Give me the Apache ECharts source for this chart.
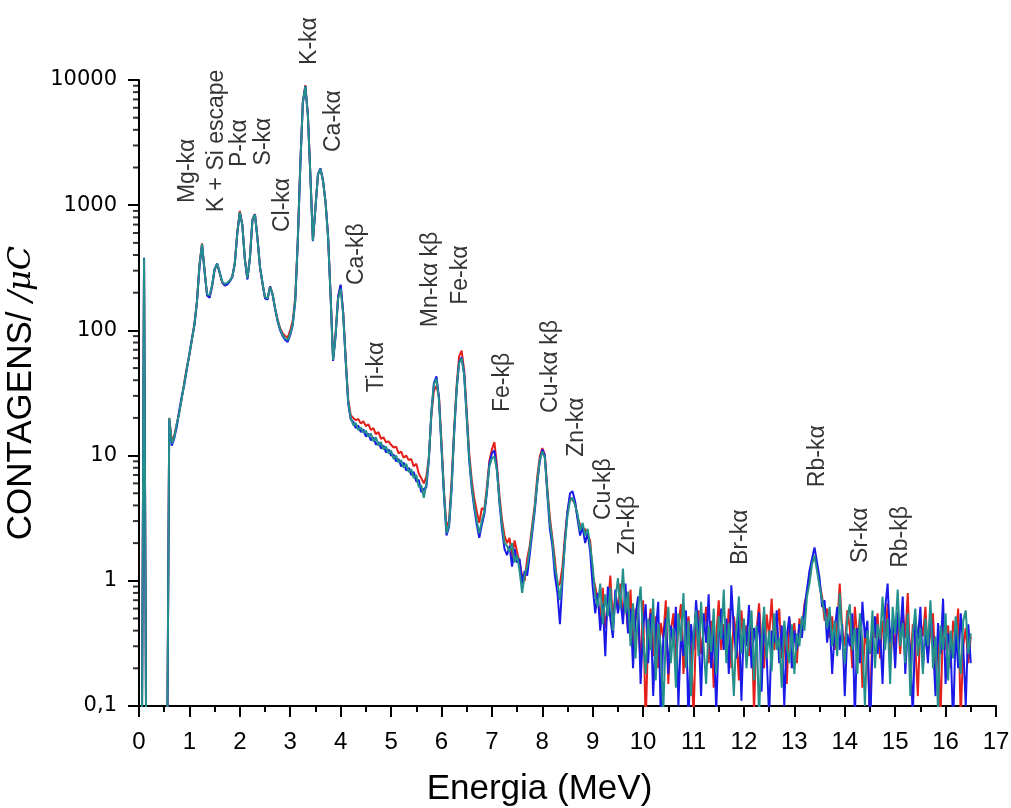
<!DOCTYPE html>
<html>
<head>
<meta charset="utf-8">
<script src="https://cdn.jsdelivr.net/npm/echarts@6/dist/echarts.min.js"></script>
<style>
  html, body { margin: 0; padding: 0; background: #fff; }
  #chart { width: 1011px; height: 808px; }
</style>
</head>
<body>
<div id="chart"></div>
<script>
// PIXE spectrum: counts per microcoulomb vs energy, three runs.
// Channels are 0.05 MeV wide; low part starts at 0.05 MeV, high part at 9.10 MeV.
const lowStart = 0.05;
const highStart = 9.10;
const channelWidth = 0.05;

const redLow = [
  0.01, 375, 0.01, 0.01, 0.01, 0.01, 0.01, 0.01, 0.01, 0.01,
  0.01, 20, 13, 14.5, 18, 22.5, 29, 39, 51, 64,
  85, 114, 172, 335, 495, 305, 192, 185, 228, 305,
  338, 288, 240, 230, 236, 248, 270, 345, 610, 900,
  700, 372, 258, 378, 770, 850, 548, 318, 236, 182,
  178, 225, 196, 150, 122, 104, 95, 90, 88, 100,
  120, 185, 530, 2150, 6700, 9100, 5300, 1720, 525, 960,
  1770, 1960, 1560, 1060, 565, 195, 60, 95, 188, 228,
  140, 60, 28, 21, 20, 19.2, 19.6, 18, 18.8, 17.2,
  17.8, 16, 16.6, 14.8, 15.4, 13.6, 14, 12.8, 13, 12.2,
  11.6, 11.8, 10.4, 10.8, 9.6, 10, 9.2, 9.4, 8.2, 8.6,
  7.2, 6.6, 6.0, 6.8, 9.8, 21, 33, 36, 30, 13,
  5.2, 2.7, 3.0, 6.2, 16, 36, 62, 69, 48, 23,
  10.5, 6.4, 4.6, 3.6, 2.9, 3.8, 3.7, 5.6, 9.0, 11.2,
  12.8, 8.4, 4.8, 3.1, 2.3, 2.0, 2.2, 1.5, 2.1, 1.7,
  1.4, 1.1, 1.0, 1.5, 1.9, 2.8, 4.0, 6.8, 9.8, 11.5,
  10.2, 5.5, 3.2, 2.2, 1.5, 0.9, 0.95, 1.3, 2.3, 3.6,
  4.6, 4.4, 4.2, 3.2, 2.8, 2.5, 2.6, 2.3, 2.1, 1.1,
  0.9
];
const redHigh = [
  0.70, 0.50, 0.88, 0.42, 0.62, 1.10, 0.48, 0.78, 0.58, 0.95,
  0.52, 0.70, 0.40, 0.85, 0.28, 0.60, 0.45, 0.22, 0.70, 0.07,
  0.38, 0.60, 0.25, 0.52, 0.20, 0.46, 0.35, 0.70, 0.15, 0.40,
  0.55, 0.22, 0.44, 0.65, 0.18, 0.38, 0.52, 0.30, 0.08, 0.42,
  0.58, 0.26, 0.40, 0.62, 0.22, 0.48, 0.14, 0.35, 0.70, 0.28,
  0.45, 0.30, 0.60, 0.20, 0.52, 0.36, 0.16, 0.58, 0.32, 0.44,
  0.25, 0.50, 0.09, 0.40, 0.66, 0.30, 0.20, 0.54, 0.36, 0.72,
  0.28, 0.42, 0.60, 0.24, 0.36, 0.15, 0.50, 0.32, 0.46, 0.22,
  0.50, 0.40, 0.65, 0.80, 1.10, 1.45, 1.55, 1.30, 0.95, 0.75,
  0.48, 0.60, 0.35, 0.52, 0.28, 0.44, 0.95, 0.40, 0.30, 0.58,
  0.42, 0.20, 0.62, 0.34, 0.50, 0.14, 0.40, 0.28, 0.08, 0.46,
  0.35, 0.55, 0.24, 0.48, 0.32, 0.66, 0.22, 0.42, 0.30, 0.52,
  0.26, 0.58, 0.35, 0.80, 0.20, 0.45, 0.30, 0.12, 0.48, 0.36,
  0.62, 0.25, 0.40, 0.55, 0.18, 0.34, 0.08, 0.50, 0.28, 0.44,
  0.20, 0.48, 0.35, 0.60, 0.08, 0.30, 0.42, 0.22, 0.36
];

const blueLow = [
  0.01, 380, 0.01, 0.01, 0.01, 0.01, 0.01, 0.01, 0.01, 0.01,
  0.01, 19, 12, 13.8, 17, 23, 30, 37, 49, 65,
  86, 110, 168, 325, 485, 298, 190, 182, 225, 308,
  342, 292, 244, 228, 232, 246, 266, 338, 595, 875,
  692, 368, 255, 375, 755, 845, 545, 322, 238, 180,
  176, 224, 192, 148, 118, 100, 90, 84, 81, 92,
  110, 172, 515, 2080, 6550, 8950, 5250, 1710, 515, 945,
  1760, 1970, 1580, 1070, 570, 192, 57, 90, 185, 232,
  138, 57, 26, 19.5, 18.6, 16.6, 17.4, 15.4, 16.2, 14.2,
  15, 13.2, 14, 12.2, 12.8, 11.4, 12, 10.6, 11.2, 10,
  10.2, 9, 9.4, 8.2, 8.8, 7.6, 8, 7, 7.4, 6.2,
  6.4, 5.1, 5.4, 5.6, 9.2, 22.5, 38, 43, 29, 11.6,
  4.8, 2.3, 2.7, 5.3, 14.6, 33, 56, 61, 45, 20.5,
  9.2, 5.5, 3.8, 2.8, 2.2, 2.8, 3.4, 5.0, 8.6, 10.4,
  11.0, 7.8, 4.2, 2.6, 1.8, 1.6, 1.9, 1.3, 1.8, 1.4,
  1.5, 0.95, 1.2, 1.1, 1.6, 2.4, 3.6, 6.0, 9.0, 11.2,
  10.0, 4.9, 2.6, 1.9, 1.1, 0.8, 0.45, 1.0, 2.1, 3.6,
  5.0, 5.2, 4.3, 3.1, 2.3, 2.7, 2.0, 2.4, 1.7, 0.9,
  0.55
];
const blueHigh = [
  0.80, 0.40, 0.65, 0.25, 0.90, 0.50, 0.35, 0.85, 0.55, 0.72,
  0.45, 0.95, 0.38, 0.60, 0.20, 0.52, 0.75, 0.15, 0.42, 0.65,
  0.22, 0.55, 0.12, 0.40, 0.68, 0.08, 0.35, 0.50, 0.18, 0.44,
  0.30, 0.62, 0.10, 0.38, 0.25, 0.58, 0.07, 0.45, 0.28, 0.70,
  0.40, 0.12, 0.55, 0.32, 0.78, 0.20, 0.42, 0.09, 0.36, 0.60,
  0.28, 0.50, 0.18, 0.92, 0.40, 0.24, 0.55, 0.11, 0.46, 0.30,
  0.64, 0.20, 0.42, 0.30, 0.56, 0.13, 0.48, 0.26, 0.08, 0.40,
  0.32, 0.58, 0.22, 0.44, 0.10, 0.36, 0.52, 0.20, 0.40, 0.28,
  0.45, 0.35, 0.60, 0.85, 1.20, 1.50, 1.85, 1.40, 1.05, 0.62,
  0.70, 0.32, 0.50, 0.18, 0.40, 0.62, 0.28, 0.45, 0.12, 0.38,
  0.30, 0.55, 0.08, 0.42, 0.22, 0.68, 0.35, 0.48, 0.06, 0.30,
  0.52, 0.26, 0.40, 0.15, 0.60, 0.95, 0.32, 0.48, 0.20, 0.56,
  0.36, 0.75, 0.18, 0.42, 0.28, 0.08, 0.50, 0.34, 0.62, 0.20,
  0.40, 0.22, 0.58, 0.32, 0.12, 0.46, 0.26, 0.72, 0.15, 0.38,
  0.30, 0.07, 0.42, 0.20, 0.55, 0.30, 0.10, 0.45, 0.22
];

const tealLow = [
  0.01, 375, 0.01, 0.01, 0.01, 0.01, 0.01, 0.01, 0.01, 0.01,
  0.01, 20, 12.5, 14, 18, 22, 29, 38, 50, 64,
  84, 112, 170, 330, 490, 300, 195, 190, 230, 310,
  340, 290, 245, 235, 240, 250, 268, 340, 600, 880,
  690, 370, 262, 380, 760, 840, 540, 320, 240, 185,
  180, 222, 195, 150, 120, 102, 92, 86, 84, 94,
  112, 175, 520, 2100, 6600, 8900, 5200, 1700, 520, 950,
  1750, 1950, 1550, 1050, 560, 190, 58, 92, 180, 215,
  135, 58, 27, 20, 17.5, 18.2, 16, 16.8, 15.2, 15.8,
  14.2, 15, 13, 14, 12, 12.8, 11.2, 11.8, 10.4, 11,
  9.4, 10, 8.8, 9.2, 8, 8.6, 7.4, 7.8, 6.6, 7,
  5.6, 5.8, 4.6, 6.0, 9.5, 22, 37, 41, 28, 12,
  5, 2.4, 2.8, 5.5, 15, 34, 55, 60, 44, 21,
  9.5, 5.8, 4.0, 3.0, 2.4, 3.0, 3.6, 5.2, 8.2, 9.5,
  9.8, 7.6, 4.4, 2.8, 2.0, 1.9, 1.7, 2.0, 1.4, 1.6,
  1.2, 0.8, 1.1, 1.3, 1.8, 2.6, 3.8, 6.2, 9.2, 10.8,
  9.6, 5.2, 2.9, 2.1, 1.3, 1.0, 0.7, 1.1, 2.0, 3.3,
  4.4, 4.6, 4.0, 3.4, 2.5, 2.9, 2.3, 2.6, 1.9, 1.3,
  0.75
];
const tealHigh = [
  0.62, 0.95, 0.45, 0.78, 0.52, 0.88, 0.40, 0.70, 1.05, 0.60,
  1.25, 0.55, 0.82, 0.30, 0.66, 0.24, 0.58, 0.90, 0.35, 0.18,
  0.50, 0.28, 0.72, 0.16, 0.45, 0.30, 0.09, 0.38, 0.62, 0.22,
  0.42, 0.14, 0.55, 0.33, 0.80, 0.20, 0.48, 0.12, 0.36, 0.58,
  0.25, 0.68, 0.30, 0.15, 0.44, 0.27, 0.60, 0.18, 0.52, 0.34,
  0.85, 0.22, 0.46, 0.31, 0.12, 0.40, 0.75, 0.26, 0.50, 0.20,
  0.38, 0.58, 0.16, 0.44, 0.08, 0.32, 0.62, 0.24, 0.40, 0.19,
  0.55, 0.28, 0.35, 0.14, 0.48, 0.30, 0.22, 0.45, 0.18, 0.38,
  0.30, 0.52, 0.40, 0.75, 0.95, 1.35, 1.60, 1.20, 0.90, 0.70,
  0.55, 0.42, 0.62, 0.30, 0.48, 0.25, 0.80, 0.36, 0.22, 0.50,
  0.65, 0.28, 0.42, 0.18, 0.55, 0.32, 0.10, 0.40, 0.26, 0.58,
  0.20, 0.45, 0.34, 0.75, 0.28, 0.50, 0.15, 0.62, 0.38, 0.85,
  0.30, 0.46, 0.22, 0.55, 0.12, 0.38, 0.60, 0.25, 0.42, 0.18,
  0.50, 0.30, 0.70, 0.20, 0.36, 0.09, 0.44, 0.28, 0.55, 0.16,
  0.40, 0.24, 0.52, 0.32, 0.18, 0.48, 0.58, 0.26, 0.38
];

// Peak identifications: text foot position in (MeV, counts)
const peakNames = ['Mg-kα', 'K + Si escape', 'P-kα', 'S-kα', 'Cl-kα', 'K-kα', 'Ca-kα', 'Ca-kβ',
  'Ti-kα', 'Mn-kα kβ', 'Fe-kα', 'Fe-kβ', 'Cu-kα kβ', 'Zn-kα', 'Cu-kβ', 'Zn-kβ',
  'Br-kα', 'Rb-kα', 'Sr-kα', 'Rb-kβ'];
const peakNameEnergy = [0.96, 1.54, 1.99, 2.47, 2.85, 3.38, 3.86, 4.31,
  4.71, 5.78, 6.38, 7.21, 8.16, 8.68, 9.21, 9.69,
  11.93, 13.46, 14.31, 15.11];
const peakNameCounts = [1040, 880, 2020, 2080, 610, 13200, 2660, 230,
  32, 106, 160, 22.3, 21.9, 9.8, 3.06, 1.61,
  1.34, 5.6, 1.39, 1.27];

// Logarithmic minor ticks on the counts axis
const countMinorTicks = [
  0.2, 0.3, 0.4, 0.5, 0.6, 0.7, 0.8, 0.9,
  2, 3, 4, 5, 6, 7, 8, 9,
  20, 30, 40, 50, 60, 70, 80, 90,
  200, 300, 400, 500, 600, 700, 800, 900,
  2000, 3000, 4000, 5000, 6000, 7000, 8000, 9000
];

function channels(start, values) {
  return values.map((v, i) => [+(start + i * channelWidth).toFixed(2), v]);
}
function spectrum(low, high) {
  return channels(lowStart, low).concat(channels(highStart, high));
}

const FONT = '"Liberation Sans", Arial, sans-serif';

const chart = echarts.init(document.getElementById('chart'), null, { renderer: 'canvas' });

function lineSeries(name, color, low, high) {
  return {
    name: name,
    type: 'line',
    data: spectrum(low, high),
    showSymbol: false,
    symbol: 'none',
    clip: true,
    lineStyle: { color: color, width: 2 },
    itemStyle: { color: color },
    animation: false,
    silent: true
  };
}

chart.setOption({
  animation: false,
  backgroundColor: '#ffffff',
  grid: {
    left: 139, right: 15, top: 80, bottom: 102,
    containLabel: false,
    outerBoundsMode: 'none'
  },
  xAxis: {
    type: 'value',
    min: 0,
    max: 17,
    interval: 1,
    name: 'Energia (MeV)',
    nameLocation: 'middle',
    nameGap: 66,
    nameTextStyle: { fontFamily: FONT, fontSize: 35, color: '#000', padding: [0, 56, 0, 0] },
    axisLine: { show: true, onZero: false, lineStyle: { color: '#000', width: 2 } },
    axisTick: { show: true, length: 11, lineStyle: { color: '#000', width: 2 } },
    minorTick: { show: true, splitNumber: 2, length: 6, lineStyle: { color: '#000', width: 2 } },
    axisLabel: { fontFamily: FONT, fontSize: 24, color: '#000', margin: 24 },
    splitLine: { show: false }
  },
  yAxis: {
    type: 'log',
    logBase: 10,
    min: 0.1,
    max: 10000,
    name: '{a|CONTAGENS/ }{b|/μC}',
    nameLocation: 'middle',
    nameGap: 92,
    nameTextStyle: {
      color: '#000',
      rich: {
        a: { fontFamily: FONT, fontSize: 35, color: '#000' },
        b: { fontFamily: '"DejaVu Serif", serif', fontStyle: 'italic', fontSize: 32, color: '#000' }
      }
    },
    axisLine: { show: true, onZero: false, lineStyle: { color: '#000', width: 2 } },
    axisTick: { show: true, length: 11, lineStyle: { color: '#000', width: 2 } },
    axisLabel: {
      fontFamily: '"DejaVu Sans", sans-serif', fontSize: 21, color: '#000', margin: 22,
      formatter: v => (v < 0.5 ? '0,1' : String(Math.round(v)))
    },
    splitLine: { show: false }
  },
  series: [
    lineSeries('Run 1', '#e5201b', redLow, redHigh),
    lineSeries('Run 2', '#1a1ae8', blueLow, blueHigh),
    lineSeries('Run 3', '#23908c', tealLow, tealHigh),
    {
      // short outward marks at 2..9 of every decade
      type: 'scatter',
      silent: true,
      clip: false,
      symbol: 'rect',
      symbolSize: [6, 2],
      symbolOffset: [-3, 0],
      itemStyle: { color: '#000' },
      data: countMinorTicks.map(v => [0, v]),
      z: 5
    },
    {
      type: 'scatter',
      silent: true,
      clip: false,
      symbolSize: 0,
      data: peakNames.map((n, i) => ({ name: n, value: [peakNameEnergy[i], peakNameCounts[i]] })),
      label: {
        show: true,
        formatter: '{b}',
        position: 'inside',
        rotate: 90,
        align: 'left',
        verticalAlign: 'middle',
        fontFamily: FONT,
        fontSize: 23,
        color: '#000'
      },
      z: 10
    }
  ]
});
</script>
</body>
</html>
